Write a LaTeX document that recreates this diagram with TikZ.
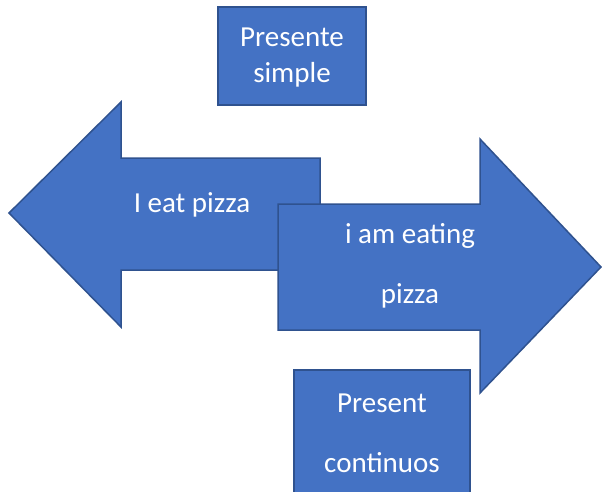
\documentclass[tikz,border=0pt]{standalone}
\usepackage{fontspec}
\setmainfont{Carlito}
\definecolor{officeblue}{HTML}{4472C4}
\definecolor{officeedge}{HTML}{2F528F}
\tikzset{
  shapefill/.style={fill=officeblue,draw=officeedge,line width=1.5pt,line join=miter},
  boxtext/.style={text=white,align=center,font=\fontsize{29}{36}\selectfont},
  widetext/.style={text=white,align=center,font=\fontsize{29}{60}\selectfont}
}
\begin{document}
\begin{tikzpicture}[x=1pt,y=-1pt]
\useasboundingbox (0,0) rectangle (602,491);
% top box
\draw[shapefill] (218,7) rectangle (366,105);
\node[boxtext] (simple) at (292,58) {Presente\\simple};
% left arrow
\draw[shapefill] (9,213) -- (121,102) -- (121,158) -- (320,158)
  -- (320,270) -- (121,270) -- (121,327) -- cycle;
\node[boxtext,anchor=base] (eat) at (192,212) {I eat pizza};
% right arrow
\draw[shapefill] (278,204) -- (480,204) -- (480,139) -- (601,267)
  -- (480,393) -- (480,330) -- (278,330) -- cycle;
\node[widetext] (eating) at (410,266) {i am eating\\pizza};
% bottom box
\draw[shapefill] (294,370) rectangle (470,495);
\node[widetext] (continuos) at (382,433) {Present\\continuos};
\end{tikzpicture}
\end{document}
